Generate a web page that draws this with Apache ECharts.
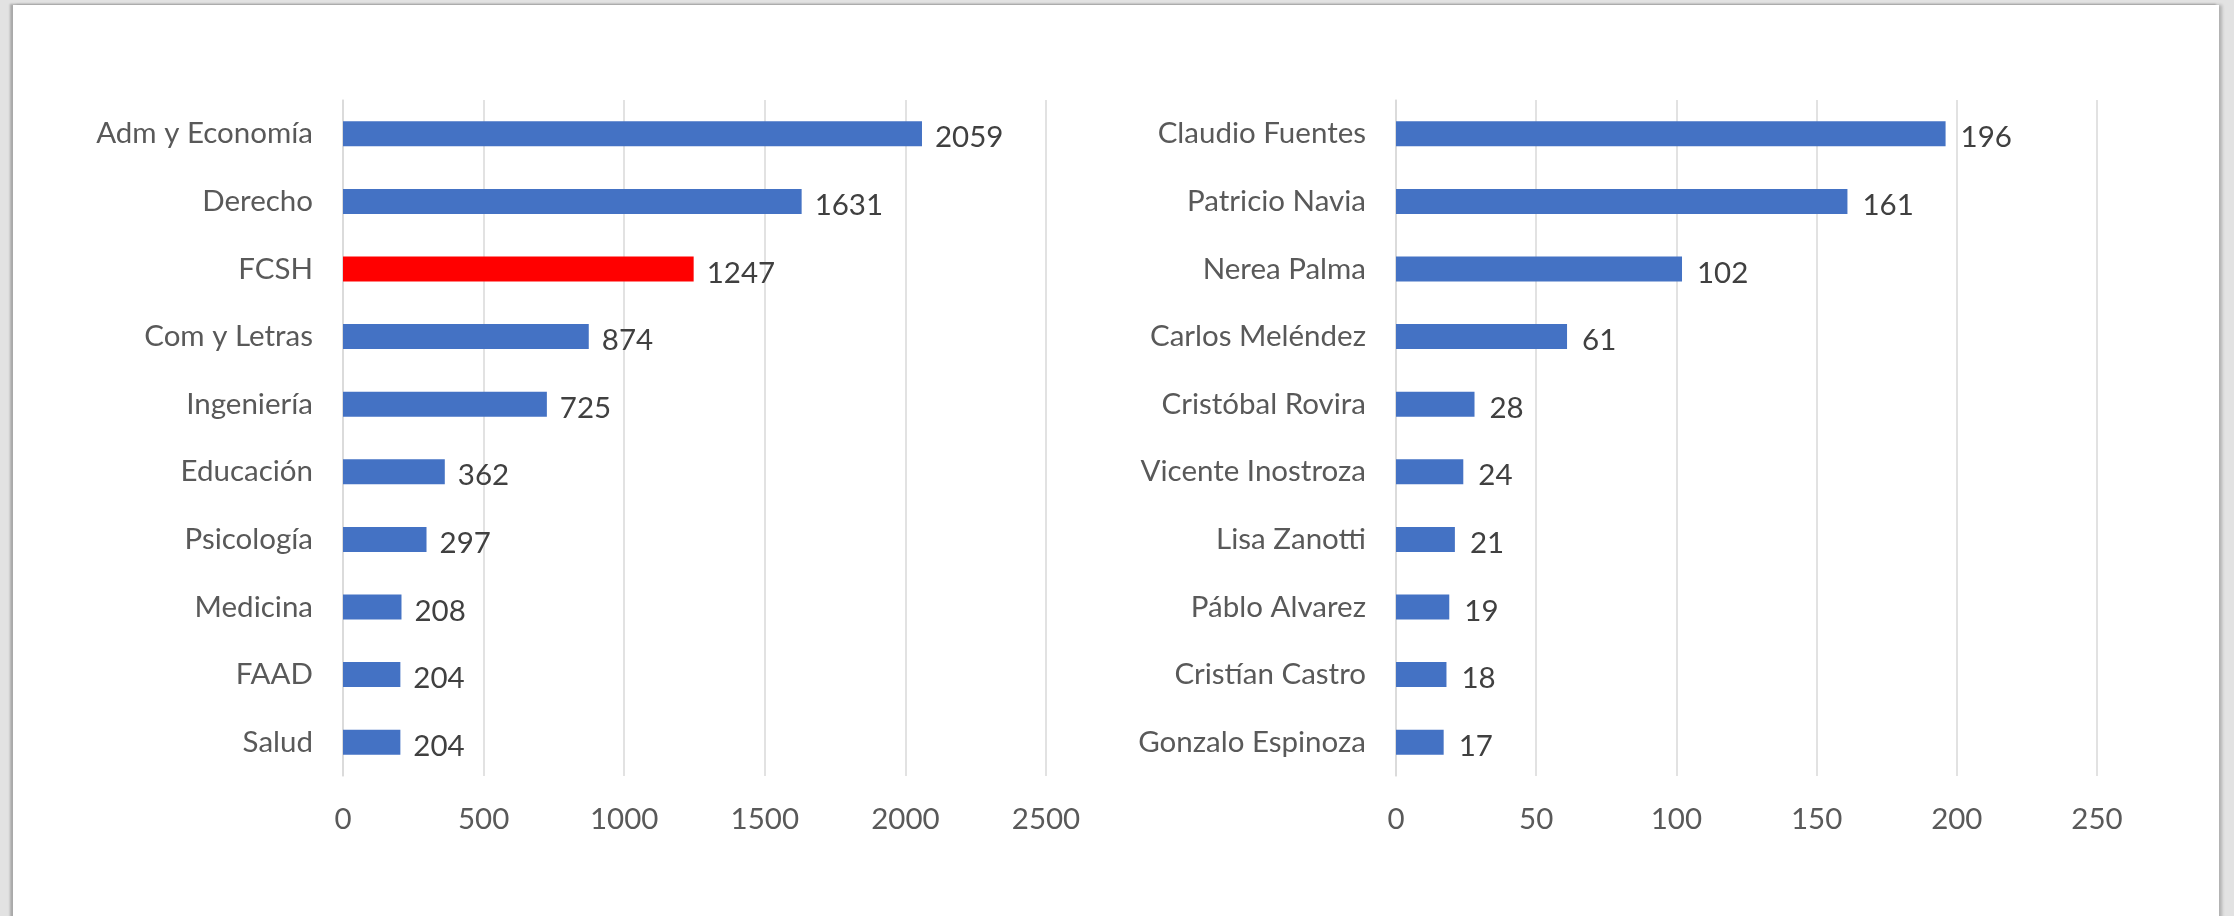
<!DOCTYPE html>
<html>
<head>
<meta charset="utf-8">
<script src="https://cdn.jsdelivr.net/npm/echarts@6/dist/echarts.min.js"></script>
<style>
  html, body { margin: 0; padding: 0; width: 2234px; height: 916px; overflow: hidden; background: #e2e2e2; }
  #card { position: absolute; left: 13px; top: 5px; width: 2206px; height: 920px; background: #ffffff;
          box-shadow: -3px -1px 2px rgba(0,0,0,0.25), 3px 0px 3px rgba(0,0,0,0.22); }
  #chart { position: absolute; left: 0; top: 0; width: 2234px; height: 916px; }
</style>
</head>
<body>
<div id="card"></div>
<div id="chart"></div>
<script>
// Left panel: faculties (top to bottom)
const facultyNames = ['Adm y Economía', 'Derecho', 'FCSH', 'Com y Letras', 'Ingeniería', 'Educación', 'Psicología', 'Medicina', 'FAAD', 'Salud'];
const facultyValues = [2059, 1631, 1247, 874, 725, 362, 297, 208, 204, 204];
const highlightFaculty = 'FCSH';
const leftTicks = [0, 500, 1000, 1500, 2000, 2500];

// Right panel: people (top to bottom)
const personNames = ['Claudio Fuentes', 'Patricio Navia', 'Nerea Palma', 'Carlos Meléndez', 'Cristóbal Rovira', 'Vicente Inostroza', 'Lisa Zanotti', 'Páblo Alvarez', 'Cristían Castro', 'Gonzalo Espinoza'];
const personValues = [196, 161, 102, 61, 28, 24, 21, 19, 18, 17];
const rightTicks = [0, 50, 100, 150, 200, 250];

const BLUE = '#4472C4', RED = '#FF0000';
const FONT = 'Lato, "Open Sans", sans-serif';
const FS = 29.5;

function makeValueAxis(gridIndex, ticks) {
  return {
    type: 'value', gridIndex: gridIndex,
    min: ticks[0], max: ticks[ticks.length - 1], interval: ticks[1] - ticks[0],
    axisLine: { show: false }, axisTick: { show: false },
    splitLine: { show: true, lineStyle: { color: '#d9d9d9', width: 1.5 } },
    axisLabel: { fontFamily: FONT, fontSize: FS, color: '#595959', margin: 28, formatter: v => String(v) }
  };
}
function makeCatAxis(gridIndex, names) {
  return {
    type: 'category', gridIndex: gridIndex, inverse: true, data: names,
    axisLine: { show: true, lineStyle: { color: '#d9d9d9', width: 1.5 } },
    axisTick: { show: false },
    axisLabel: { fontFamily: FONT, fontSize: FS, color: '#595959', margin: 30 }
  };
}

const chart = echarts.init(document.getElementById('chart'), null, { renderer: 'canvas' });
chart.setOption({
  backgroundColor: 'transparent',
  animation: false,
  grid: [
    { left: 343, top: 100, width: 703, height: 676, containLabel: false },
    { left: 1396, top: 100, width: 701, height: 676, containLabel: false }
  ],
  xAxis: [makeValueAxis(0, leftTicks), makeValueAxis(1, rightTicks)],
  yAxis: [makeCatAxis(0, facultyNames), makeCatAxis(1, personNames)],
  series: [
    {
      type: 'bar', xAxisIndex: 0, yAxisIndex: 0, barWidth: 25,
      data: facultyValues.map((v, i) => ({ value: v, itemStyle: { color: facultyNames[i] === highlightFaculty ? RED : BLUE } })),
      label: { show: true, position: 'right', distance: 13, fontFamily: FONT, fontSize: FS, color: '#404040', offset: [0, 4] }
    },
    {
      type: 'bar', xAxisIndex: 1, yAxisIndex: 1, barWidth: 25,
      data: personValues,
      itemStyle: { color: BLUE },
      label: { show: true, position: 'right', distance: 15, fontFamily: FONT, fontSize: FS, color: '#404040', offset: [0, 4] }
    }
  ]
});
</script>
</body>
</html>
